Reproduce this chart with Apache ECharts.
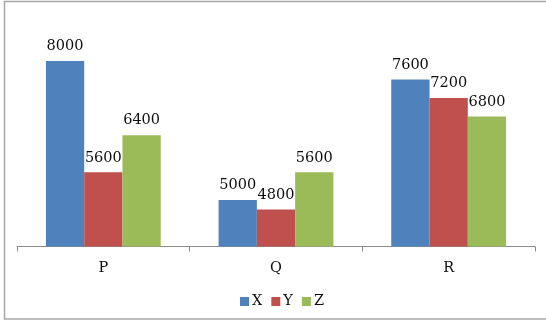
<!DOCTYPE html>
<html>
<head>
<meta charset="utf-8">
<script src="https://cdn.jsdelivr.net/npm/echarts@6/dist/echarts.min.js"></script>
<style>
  html, body { margin: 0; padding: 0; background: #ffffff; }
  #chart { width: 546px; height: 322px; }
</style>
</head>
<body>
<div id="chart"></div>
<script>
// Groups along the horizontal axis
const categories = ['P', 'Q', 'R'];
// Values per series
const seriesNames = ['X', 'Y', 'Z'];
const valuesX = [8000, 5000, 7600];
const valuesY = [5600, 4800, 7200];
const valuesZ = [6400, 5600, 6800];
const seriesColors = ['#4F81BD', '#C0504D', '#9BBB59'];

const FONT = 'DejaVu Serif';

const chart = echarts.init(document.getElementById('chart'), null, { renderer: 'canvas' });

function barSeries(name, data, color) {
  return {
    name: name,
    type: 'bar',
    data: data,
    barGap: '0%',
    barCategoryGap: '33.5%',
    itemStyle: { color: color },
    label: {
      show: true,
      position: 'top',
      distance: 7,
      color: '#0d0d0d',
      fontFamily: FONT,
      fontSize: 14.5
    }
  };
}

chart.setOption({
  animation: false,
  backgroundColor: '#ffffff',
  grid: { left: 17, right: 11, top: 14.5, bottom: 75.5, containLabel: false },
  legend: {
    data: seriesNames,
    left: 235,
    top: 289,
    icon: 'rect',
    itemWidth: 9,
    itemHeight: 9,
    itemGap: 9,
    textStyle: { fontFamily: FONT, fontSize: 14.5, color: '#0d0d0d', padding: [0, 0, 0, -2] }
  },
  xAxis: {
    type: 'category',
    data: categories,
    axisLine: { show: true, lineStyle: { color: '#8c8c8c', width: 1 } },
    axisTick: { show: true, length: 5, alignWithLabel: false, lineStyle: { color: '#8c8c8c' } },
    axisLabel: { margin: 14, fontFamily: FONT, fontSize: 14.5, color: '#0d0d0d' },
    splitLine: { show: false }
  },
  yAxis: {
    type: 'value',
    min: 4000,
    max: 9000,
    show: false,
    splitLine: { show: false }
  },
  series: [
    barSeries(seriesNames[0], valuesX, seriesColors[0]),
    barSeries(seriesNames[1], valuesY, seriesColors[1]),
    barSeries(seriesNames[2], valuesZ, seriesColors[2])
  ],
  graphic: [
    {
      type: 'rect',
      shape: { x: 4.5, y: 1.5, width: 560, height: 317.5 },
      style: { fill: 'none', stroke: '#a6a6a6', lineWidth: 1.5 },
      silent: true,
      z: -1
    }
  ]
});
</script>
</body>
</html>
